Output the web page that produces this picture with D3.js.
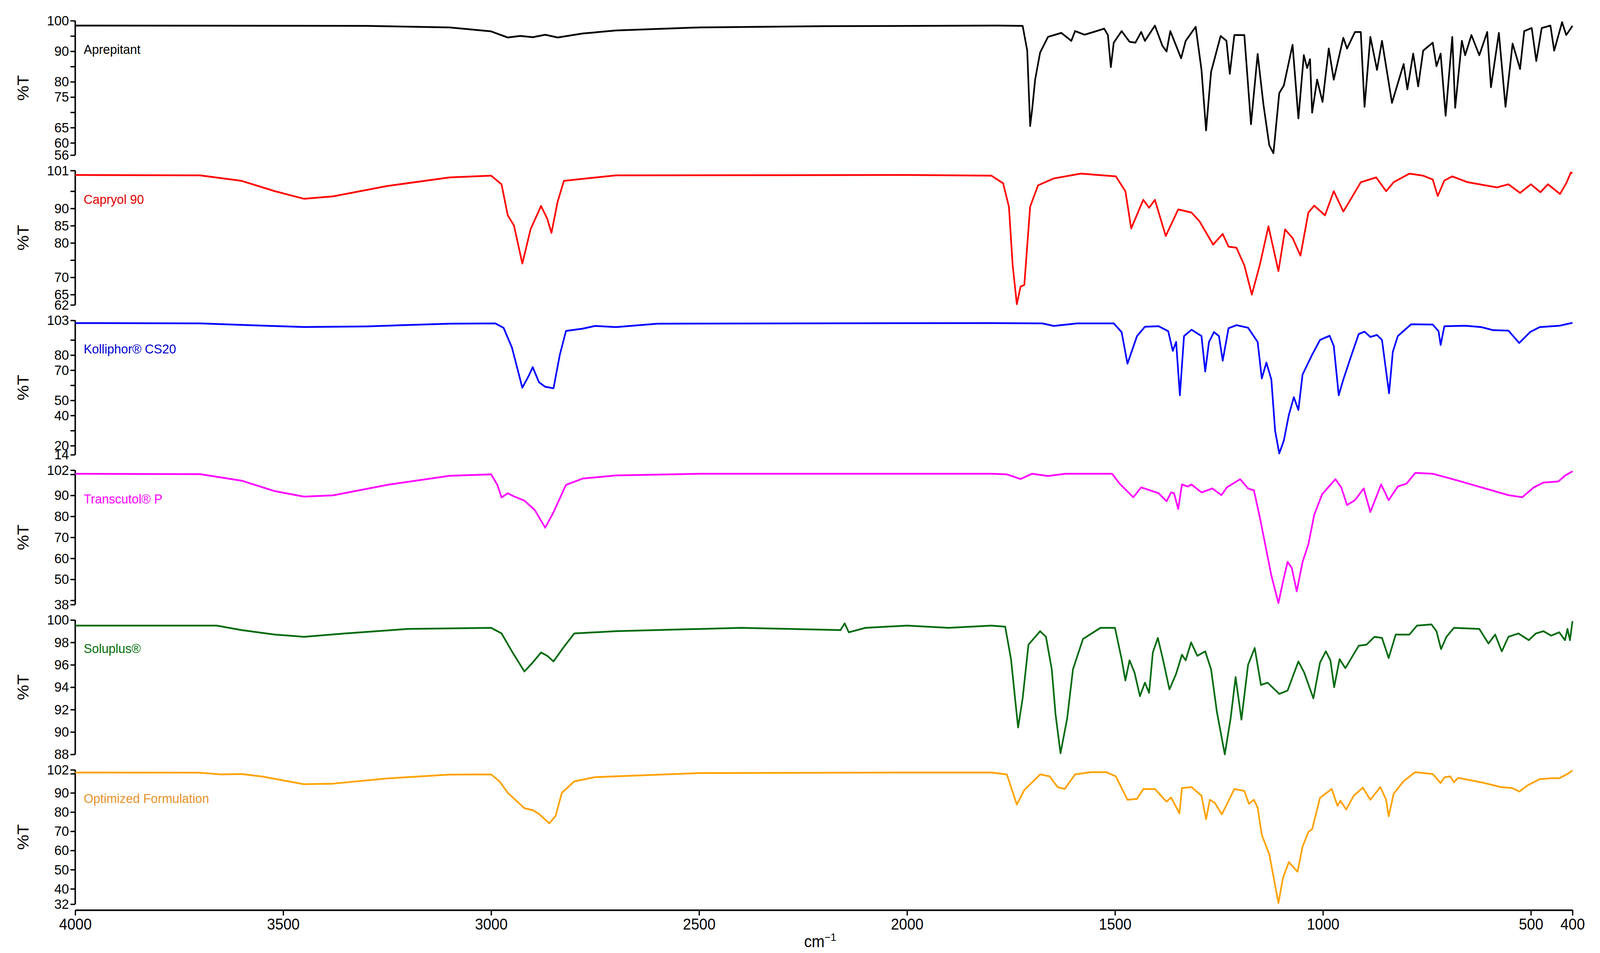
<!DOCTYPE html>
<html><head><meta charset="utf-8">
<script src="https://cdn.jsdelivr.net/npm/d3@7"></script>
<style>html,body{margin:0;padding:0;background:#fff;overflow:hidden}svg{display:block;width:100vw;height:100vh}</style>
</head><body>
<script>
// spectra, [wavenumber, %T]
var aprepitant = [[4000,98.4],[3300,98.3],[3100,97.8],[3000,96.5],[2960,94.5],[2930,95],[2900,94.6],[2870,95.4],[2840,94.5],[2780,95.8],[2700,96.8],[2500,97.8],[2200,98.2],[1780,98.4],[1722,98.3],[1711,90.2],[1704,65.5],[1699,71.2],[1692,80.7],[1680,89.6],[1661,94.7],[1629,96.0],[1605,93.4],[1596,96.6],[1573,95.4],[1526,97.4],[1517,95.3],[1510,84.8],[1503,92.8],[1484,96.6],[1465,93.1],[1451,92.8],[1437,96.3],[1428,93.4],[1404,98.4],[1386,91.8],[1376,89.9],[1367,96.6],[1341,87.7],[1330,93.4],[1306,98.0],[1292,83.9],[1281,64.1],[1269,83.2],[1246,95.0],[1232,93.4],[1224,82.6],[1213,95.3],[1189,95.3],[1173,66.1],[1157,89.1],[1143,72.5],[1129,59.2],[1119,56.6],[1105,76.3],[1094,78.8],[1073,92.1],[1059,68.0],[1046,88.7],[1038,84.5],[1031,87.4],[1026,69.9],[1014,80.7],[1001,73.4],[986,90.9],[974,80.7],[951,94.4],[942,90.9],[923,96.3],[909,96.3],[900,71.8],[886,94.7],[870,83.9],[858,93.4],[834,73.1],[806,85.8],[797,77.5],[783,89.2],[771,78.5],[759,90.2],[736,92.8],[727,85.1],[717,89.2],[705,68.9],[689,94.7],[682,71.5],[666,93.4],[658,88.7],[643,95.3],[624,88.7],[605,96.3],[596,78.2],[577,96.0],[561,71.8],[544,92.5],[526,84.2],[516,96.6],[498,97.6],[487,86.8],[474,97.6],[453,98.4],[444,90.2],[425,99.5],[415,95.3],[400,98.3]];
var capryol = [[4000,99.7],[3700,99.6],[3600,98],[3520,95],[3450,92.8],[3380,93.5],[3250,96.5],[3100,99],[3000,99.5],[2975,97],[2960,88],[2945,85],[2925,74],[2905,84],[2880,90.7],[2865,87],[2855,82.9],[2840,92],[2825,98],[2700,99.6],[2000,99.7],[1797,99.5],[1769,97.3],[1755,90.5],[1746,73.5],[1736,62.2],[1727,67.3],[1718,67.8],[1704,90.5],[1685,96.7],[1647,98.7],[1582,100.1],[1498,99.3],[1475,95.0],[1461,84.2],[1432,92.5],[1418,90.2],[1404,92.5],[1378,82.0],[1348,89.7],[1316,88.8],[1297,86.3],[1264,79.5],[1241,82.6],[1227,78.9],[1208,78.6],[1189,73.5],[1171,65.0],[1152,73.5],[1131,84.8],[1107,71.8],[1091,83.9],[1073,81.4],[1054,76.3],[1035,88.8],[1021,90.8],[995,88.0],[974,95.0],[951,89.1],[937,91.9],[909,97.6],[872,99.0],[848,95.0],[830,97.6],[792,100.1],[759,99.5],[736,98.4],[724,93.6],[708,98.1],[689,99.3],[652,97.6],[582,96.1],[554,97.0],[526,94.5],[500,97.0],[477,94.7],[459,97.0],[430,94.2],[415,97.3],[404,100.4],[400,100.2]];
var kolliphor = [[4000,101.2],[3700,101],[3550,99.5],[3450,98.6],[3300,99],[3100,100.8],[2990,101],[2970,98],[2950,85],[2925,58.4],[2910,66],[2900,72],[2885,62],[2870,59],[2850,58],[2835,80],[2820,96],[2780,97.5],[2750,99.3],[2700,98.5],[2600,100.8],[1797,101.2],[1675,101],[1647,99.3],[1591,101],[1503,101],[1484,95.2],[1470,74.3],[1447,92.6],[1428,98.8],[1395,99.1],[1372,95.8],[1361,82.8],[1353,88.7],[1344,53.4],[1334,92.6],[1316,96.8],[1292,92.6],[1283,69.1],[1274,88.7],[1262,95.2],[1250,92.6],[1241,76.3],[1227,97.8],[1208,99.8],[1180,98.1],[1157,88.7],[1147,64.5],[1136,75.0],[1124,63.8],[1115,29.9],[1105,14.9],[1094,23.4],[1082,40.3],[1070,52.1],[1059,43.6],[1049,67.1],[1026,80.2],[1007,90.0],[984,92.8],[974,86.1],[962,53.4],[951,63.8],[932,79.5],[914,93.9],[900,95.5],[886,92.0],[870,93.3],[858,90.0],[848,69.1],[841,54.7],[832,82.1],[820,92.6],[788,100.4],[736,100.2],[722,95.8],[717,86.7],[708,99.1],[657,99.4],[619,98.5],[591,96.5],[554,96.2],[528,88.0],[502,95.2],[479,98.5],[432,99.4],[404,101.1],[400,101.3]];
var transcutol = [[4000,100.3],[3700,100.1],[3600,97],[3520,92],[3450,89.4],[3380,90],[3250,95],[3100,99.3],[3000,100],[2985,95],[2975,89],[2960,91],[2945,89.5],[2920,87.5],[2895,83],[2870,74.6],[2850,82],[2820,95],[2780,98],[2700,99.5],[2500,100.3],[1797,100.3],[1760,100],[1727,97.8],[1699,100.3],[1661,99.2],[1619,100.3],[1507,100.3],[1489,95.6],[1456,89.1],[1437,93.8],[1395,91.0],[1376,87.2],[1365,91.4],[1358,91.0],[1348,83.5],[1339,95.2],[1325,94.2],[1316,95.2],[1292,91.4],[1266,93.3],[1244,90.1],[1231,93.8],[1199,97.7],[1180,93.3],[1166,92.4],[1152,79.8],[1138,65.8],[1124,51.8],[1107,38.7],[1096,49.0],[1085,58.3],[1075,55.5],[1063,44.3],[1049,58.3],[1035,66.7],[1021,80.7],[1002,90.5],[970,97.7],[956,93.8],[942,85.4],[923,87.7],[902,93.3],[886,82.1],[860,95.2],[842,87.7],[820,94.2],[799,95.6],[778,100.7],[736,100.3],[675,97.0],[610,93.3],[554,90.1],[521,89.1],[493,93.8],[470,96.1],[434,96.6],[418,99.4],[402,101.2],[400,101.5]];
var soluplus = [[4000,99.5],[3660,99.5],[3600,99.1],[3520,98.7],[3450,98.5],[3350,98.8],[3200,99.2],[3000,99.3],[2975,98.8],[2950,97.2],[2920,95.4],[2900,96.2],[2880,97.1],[2865,96.8],[2850,96.3],[2825,97.6],[2800,98.8],[2700,99.0],[2400,99.3],[2160,99.1],[2150,99.7],[2140,98.9],[2100,99.3],[2000,99.5],[1900,99.3],[1797,99.5],[1764,99.4],[1750,96.5],[1733,90.4],[1722,93.0],[1708,97.8],[1680,99.0],[1666,98.5],[1652,95.6],[1643,91.6],[1631,88.1],[1615,91.2],[1601,95.6],[1577,98.3],[1535,99.3],[1500,99.3],[1484,96.5],[1475,94.6],[1465,96.4],[1453,95.3],[1440,93.2],[1428,94.4],[1418,93.5],[1409,97.1],[1397,98.4],[1386,96.7],[1369,93.8],[1353,95.2],[1339,96.9],[1330,96.4],[1317,98.0],[1302,96.8],[1283,97.2],[1269,95.6],[1255,91.8],[1236,88.0],[1222,91.2],[1210,94.9],[1196,91.1],[1180,96.0],[1164,97.5],[1149,94.2],[1133,94.4],[1105,93.4],[1085,93.7],[1059,96.3],[1045,95.3],[1023,93.0],[1007,96.2],[993,97.2],[982,96.4],[973,94.0],[960,96.5],[946,95.7],[914,97.7],[895,97.8],[876,98.5],[858,98.4],[842,96.6],[825,98.7],[792,98.7],[774,99.5],[739,99.6],[727,99.0],[716,97.4],[703,98.5],[685,99.3],[624,99.2],[602,97.9],[586,98.7],[570,97.2],[554,98.5],[530,98.8],[505,98.2],[488,98.8],[470,99.0],[451,98.6],[432,98.9],[418,98.2],[412,99.2],[406,98.2],[400,99.9]];
var optimized = [[4000,100.6],[3700,100.5],[3650,99.6],[3600,99.8],[3550,98.5],[3450,94.5],[3380,94.8],[3250,97.5],[3100,99.5],[3000,99.6],[2980,96],[2960,90],[2940,86],[2920,82],[2900,81],[2885,79],[2860,74.1],[2845,78],[2830,90],[2800,96],[2750,98.2],[2500,100.3],[2000,100.6],[1797,100.6],[1760,99.6],[1736,83.9],[1718,91.5],[1680,99.6],[1657,98.6],[1638,93.0],[1621,92.0],[1596,99.6],[1558,100.8],[1521,100.8],[1498,98.6],[1470,86.4],[1447,86.9],[1432,92.0],[1404,92.0],[1376,85.4],[1365,87.6],[1345,79.3],[1339,92.5],[1316,93.0],[1292,88.5],[1281,76.2],[1272,86.4],[1260,84.8],[1243,78.8],[1213,92.0],[1189,91.0],[1178,84.3],[1166,86.4],[1157,82.3],[1147,68.1],[1129,58.0],[1107,32.6],[1096,45.8],[1082,53.9],[1061,48.9],[1049,62.0],[1035,69.6],[1026,71.1],[1007,87.4],[979,92.0],[965,83.3],[958,85.9],[944,81.3],[926,88.5],[904,92.7],[886,86.4],[862,93.0],[848,86.4],[842,77.8],[830,89.5],[806,96.1],[778,100.8],[736,99.8],[717,95.1],[708,98.1],[694,98.6],[685,95.5],[675,97.8],[619,95.5],[572,93.0],[545,92.5],[528,90.7],[507,94.0],[479,97.1],[451,97.6],[432,97.6],[414,99.6],[400,101.6]];

var names = ["Aprepitant","Capryol 90","Kolliphor\u00ae CS20","Transcutol\u00ae P","Soluplus\u00ae","Optimized Formulation"];
var series = [aprepitant, capryol, kolliphor, transcutol, soluplus, optimized];
var lineColors = ["#000000","#ff0000","#0000ff","#ff00ff","#006b0e","#ffa200"];
var labelColors = ["#000000","#e00000","#0000d0","#ff00ff","#00700a","#e8922a"];
var yDomains = [[56,100],[62,101],[14,103],[38,102],[88,100],[32,102]];
var yTicks = [[56,60,65,75,80,90,100],[62,65,70,80,85,90,101],[14,20,40,50,70,80,103],[38,50,60,70,80,90,102],[88,90,92,94,96,98,100],[32,40,50,60,70,80,90,102]];
var yMinor = [[70,85,95],[75,95],[30,60,90],[40,100],[],[100]];
var xTicks = [4000,3500,3000,2500,2000,1500,1000,500,400];

var W = 4360, H = 2440;
var left = 205, right = 4285, top0 = 53, panelH = 344, panelStep = 383.6, axisY = 2330;
var font = "'Liberation Sans Narrow','Liberation Sans',Arial,sans-serif";

var svg = d3.select("body").append("svg")
	.attr("viewBox","0 0 "+W+" "+H)
	.attr("preserveAspectRatio","none");
var x = d3.scaleLinear().domain([4000,400]).range([left,right]);

series.forEach(function(data,i){
	var t = top0 + i*panelStep;
	var y = d3.scaleLinear().domain(yDomains[i]).range([t+panelH, t]);
	var g = svg.append("g");

	var ax = g.append("g").attr("transform","translate("+left+",0)")
		.call(d3.axisLeft(y).tickValues(yTicks[i]).tickSize(13).tickPadding(4).tickFormat(d3.format("d")));
	ax.select(".domain").attr("stroke-width",4).attr("d","M0,"+t+"V"+(t+panelH));
	ax.selectAll(".tick line").attr("stroke-width",3.5);
	ax.selectAll("text").attr("font-size",36).attr("font-family",font).attr("fill","#000");
	g.append("g").attr("transform","translate("+left+",0)")
		.call(d3.axisLeft(y).tickValues(yMinor[i]).tickSize(13).tickFormat(""))
		.call(function(s){ s.select(".domain").remove(); s.selectAll("line").attr("stroke-width",3.5); });

	g.append("text").attr("transform","translate(78,"+(t+panelH/2)+") rotate(-90)")
		.attr("text-anchor","middle").attr("font-size",44).attr("font-family","'Liberation Sans',Arial,sans-serif")
		.text("%T");

	g.append("path").datum(data)
		.attr("fill","none").attr("stroke",lineColors[i]).attr("stroke-width",4.5)
		.attr("stroke-linejoin","round")
		.attr("d", d3.line().x(function(d){return x(d[0]);}).y(function(d){return y(d[1]);}));

	g.append("text").attr("x",228).attr("y",t+85).attr("font-size",34)
		.attr("font-family","'Liberation Sans',Arial,sans-serif").attr("fill",labelColors[i])
		.text(names[i]);
});

var xa = svg.append("g").attr("transform","translate(0,"+axisY+")")
	.call(d3.axisBottom(x).tickValues(xTicks).tickSize(14).tickSizeOuter(0).tickPadding(8).tickFormat(d3.format("d")));
xa.select(".domain").attr("stroke-width",4);
xa.selectAll(".tick line").attr("stroke-width",3.5);
xa.selectAll("text").attr("font-size",40).attr("font-family",font).attr("fill","#000");

var xl = svg.append("text").attr("x",2235).attr("y",2425).attr("text-anchor","middle")
	.attr("font-size",42).attr("font-family","'Liberation Sans',Arial,sans-serif");
xl.append("tspan").text("cm");
xl.append("tspan").attr("dy",-16).attr("font-size",28).text("\u22121");
</script>
</body></html>
